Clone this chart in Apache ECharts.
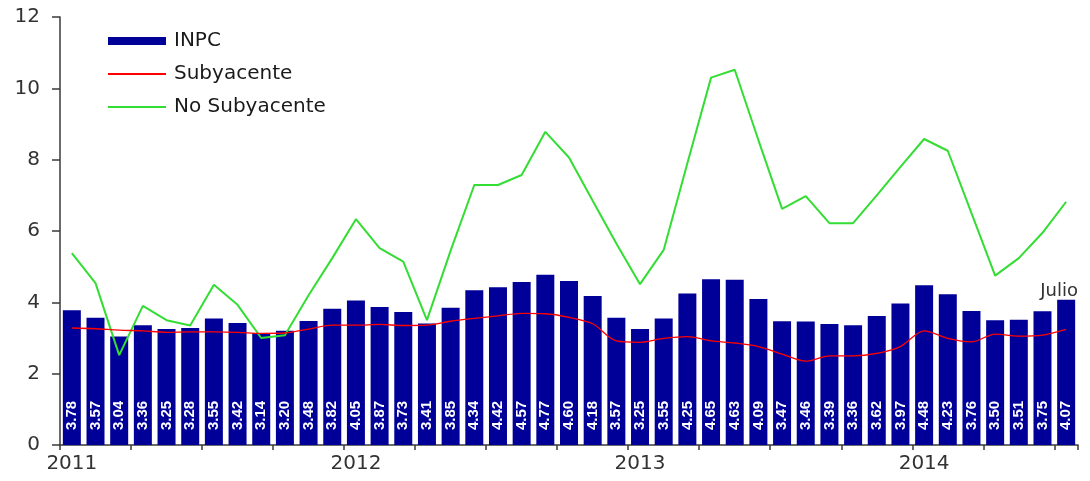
<!DOCTYPE html>
<html>
<head>
<meta charset="utf-8">
<script src="https://cdn.jsdelivr.net/npm/echarts@6/dist/echarts.min.js"></script>
<style>
  html, body { margin: 0; padding: 0; background: #ffffff; }
  #chart { width: 1090px; height: 481px; }
</style>
</head>
<body>
<div id="chart"></div>
<script>
// Months, January 2011 to July 2014
const months = [
  '2011-01','2011-02','2011-03','2011-04','2011-05','2011-06','2011-07','2011-08','2011-09','2011-10','2011-11','2011-12',
  '2012-01','2012-02','2012-03','2012-04','2012-05','2012-06','2012-07','2012-08','2012-09','2012-10','2012-11','2012-12',
  '2013-01','2013-02','2013-03','2013-04','2013-05','2013-06','2013-07','2013-08','2013-09','2013-10','2013-11','2013-12',
  '2014-01','2014-02','2014-03','2014-04','2014-05','2014-06','2014-07'
];

// Annual inflation, headline index (bars)
const inpc = [
  3.78, 3.57, 3.04, 3.36, 3.25, 3.28, 3.55, 3.42, 3.14, 3.20, 3.48, 3.82,
  4.05, 3.87, 3.73, 3.41, 3.85, 4.34, 4.42, 4.57, 4.77, 4.60, 4.18, 3.57,
  3.25, 3.55, 4.25, 4.65, 4.63, 4.09, 3.47, 3.46, 3.39, 3.36, 3.62, 3.97,
  4.48, 4.23, 3.76, 3.50, 3.51, 3.75, 4.07
];

// Core component
const subyacente = [
  3.28, 3.26, 3.22, 3.20, 3.16, 3.17, 3.17, 3.16, 3.13, 3.14, 3.25, 3.36,
  3.36, 3.38, 3.35, 3.36, 3.47, 3.55, 3.62, 3.69, 3.68, 3.58, 3.40, 2.92,
  2.88, 2.99, 3.04, 2.92, 2.86, 2.76, 2.55, 2.35, 2.50, 2.50, 2.57, 2.76,
  3.20, 2.99, 2.89, 3.11, 3.05, 3.08, 3.24
];

// Non-core component
const noSubyacente = [
  5.38, 4.54, 2.52, 3.90, 3.50, 3.35, 4.49, 3.93, 3.00, 3.08, 4.20, 5.24,
  6.33, 5.52, 5.14, 3.50, 5.45, 7.29, 7.29, 7.57, 8.78, 8.06, 6.85, 5.65,
  4.51, 5.47, 7.90, 10.30, 10.52, 8.55, 6.62, 6.98, 6.22, 6.22, 7.00, 7.80,
  8.58, 8.25, 6.50, 4.75, 5.24, 5.95, 6.82
];

const seriesNames = ['INPC', 'Subyacente', 'No Subyacente'];
const lastMonthLabel = 'Julio';

const axisFont = 'DejaVu Sans, Liberation Sans, Arial, sans-serif';
const axisColor = '#3a3a3a';
const noMarker = { color: 'rgba(0,0,0,0)', borderWidth: 0 };

const chart = echarts.init(document.getElementById('chart'), null, { renderer: 'canvas' });

chart.setOption({
  animation: false,
  backgroundColor: '#ffffff',
  grid: { left: 60, right: 12, top: 17, bottom: 36, containLabel: false, outerBoundsMode: 'none' },
  legend: {
    orient: 'vertical',
    left: 107,
    top: 30,
    padding: 0,
    itemWidth: 58,
    itemHeight: 8,
    itemGap: 11,
    data: [
      { name: seriesNames[0], icon: 'rect' },
      { name: seriesNames[1], itemStyle: noMarker },
      { name: seriesNames[2], itemStyle: noMarker }
    ],
    textStyle: {
      fontFamily: axisFont,
      fontSize: 20,
      lineHeight: 22,
      color: '#1a1a1a',
      padding: [0, 0, 0, 3]
    }
  },
  xAxis: {
    type: 'category',
    data: months,
    boundaryGap: true,
    axisLine: { show: true, lineStyle: { color: axisColor, width: 1.5 } },
    axisTick: { show: true, interval: 2, length: 5, lineStyle: { color: axisColor, width: 1.5 } },
    axisLabel: {
      interval: 11,
      margin: 9,
      fontFamily: axisFont,
      fontSize: 20,
      color: '#333333',
      formatter: function (v) { return v.slice(0, 4); }
    },
    splitLine: { show: false }
  },
  yAxis: {
    type: 'value',
    min: 0,
    max: 12,
    interval: 2,
    axisLine: { show: true, lineStyle: { color: axisColor, width: 1.5 } },
    axisTick: { show: true, length: 8, lineStyle: { color: axisColor, width: 1.5 } },
    axisLabel: {
      margin: 20,
      fontFamily: axisFont,
      fontSize: 20,
      color: '#333333'
    },
    splitLine: { show: false }
  },
  series: [
    {
      name: seriesNames[0],
      type: 'bar',
      data: inpc,
      barCategoryGap: '24%',
      itemStyle: { color: '#000099' },
      label: {
        show: true,
        position: 'insideBottom',
        distance: 15,
        rotate: 90,
        align: 'left',
        verticalAlign: 'middle',
        fontFamily: 'Liberation Sans, Arial, sans-serif',
        fontWeight: 'bold',
        fontSize: 15,
        color: '#ffffff',
        formatter: function (p) { return p.value.toFixed(2); }
      },
      markPoint: {
        symbol: 'circle',
        symbolSize: 0,
        data: [{ coord: [months[months.length - 1], inpc[inpc.length - 1]] }],
        label: {
          show: true,
          position: 'top',
          distance: 0,
          offset: [-7, 0],
          formatter: lastMonthLabel,
          fontFamily: axisFont,
          fontSize: 18,
          color: '#333333'
        }
      }
    },
    {
      name: seriesNames[2],
      type: 'line',
      data: noSubyacente,
      symbol: 'none',
      lineStyle: { color: '#33dd33', width: 2 },
      itemStyle: { color: '#33dd33' },
      z: 3
    },
    {
      name: seriesNames[1],
      type: 'line',
      data: subyacente,
      symbol: 'none',
      smooth: 0.3,
      lineStyle: { color: '#ff0000', width: 1.3 },
      itemStyle: { color: '#ff0000' },
      z: 4
    }
  ]
});
</script>
</body>
</html>
